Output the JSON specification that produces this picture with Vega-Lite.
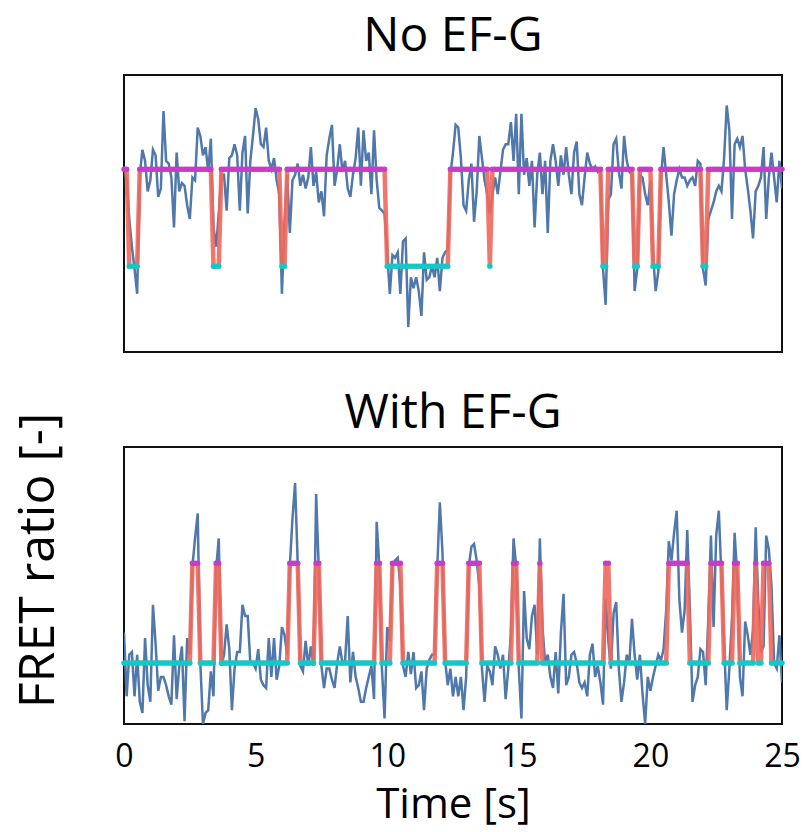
{
"$schema":"https://vega.github.io/schema/vega-lite/v6.json",
"padding":{"left":12,"top":12,"right":4,"bottom":2},
"spacing":95,
"bounds":"flush",
"config":{"font":"Open Sans","view":{"stroke":"#111","strokeWidth":2},"title":{"fontSize":48,"fontWeight":"normal","color":"#000","offset":14,"frame":"group"},"axis":{"grid":false,"labelColor":"#000","titleColor":"#000","titleFontWeight":"normal"}},
"datasets":{
"a":[
{"t":0,"f":0.67,"s":"H","i":0.66},{"t":0.1,"f":0.62,"s":"H","i":0.66},{"t":0.2,"f":0.48,"s":"L","i":0.31},{"t":0.3,"f":0.38,"s":"L","i":0.31},{"t":0.4,"f":0.30,"s":"L","i":0.31},{"t":0.5,"f":0.21,"s":"L","i":0.31},{"t":0.6,"f":0.64,"s":"H","i":0.66},{"t":0.7,"f":0.73,"s":"H","i":0.66},{"t":0.8,"f":0.69,"s":"H","i":0.66},{"t":0.9,"f":0.58,"s":"H","i":0.66},
{"t":1.0,"f":0.62,"s":"H","i":0.66},{"t":1.1,"f":0.73,"s":"H","i":0.66},{"t":1.2,"f":0.71,"s":"H","i":0.66},{"t":1.3,"f":0.56,"s":"H","i":0.66},{"t":1.4,"f":0.59,"s":"H","i":0.66},{"t":1.5,"f":0.87,"s":"H","i":0.66},{"t":1.6,"f":0.69,"s":"H","i":0.66},{"t":1.7,"f":0.68,"s":"H","i":0.66},{"t":1.8,"f":0.63,"s":"H","i":0.66},{"t":1.9,"f":0.45,"s":"H","i":0.66},
{"t":2.0,"f":0.72,"s":"H","i":0.66},{"t":2.1,"f":0.58,"s":"H","i":0.66},{"t":2.2,"f":0.61,"s":"H","i":0.66},{"t":2.3,"f":0.60,"s":"H","i":0.66},{"t":2.4,"f":0.53,"s":"H","i":0.66},{"t":2.5,"f":0.48,"s":"H","i":0.66},{"t":2.6,"f":0.63,"s":"H","i":0.66},{"t":2.7,"f":0.62,"s":"H","i":0.66},{"t":2.8,"f":0.81,"s":"H","i":0.66},{"t":2.9,"f":0.78,"s":"H","i":0.66},
{"t":3.0,"f":0.71,"s":"H","i":0.66},{"t":3.1,"f":0.74,"s":"H","i":0.66},{"t":3.2,"f":0.65,"s":"H","i":0.66},{"t":3.3,"f":0.77,"s":"H","i":0.66},{"t":3.4,"f":0.45,"s":"L","i":0.31},{"t":3.5,"f":0.38,"s":"L","i":0.31},{"t":3.6,"f":0.50,"s":"L","i":0.31},{"t":3.7,"f":0.64,"s":"H","i":0.66},{"t":3.8,"f":0.64,"s":"H","i":0.66},{"t":3.9,"f":0.51,"s":"H","i":0.66},
{"t":4.0,"f":0.70,"s":"H","i":0.66},{"t":4.1,"f":0.71,"s":"H","i":0.66},{"t":4.2,"f":0.75,"s":"H","i":0.66},{"t":4.3,"f":0.71,"s":"H","i":0.66},{"t":4.4,"f":0.51,"s":"H","i":0.66},{"t":4.5,"f":0.72,"s":"H","i":0.66},{"t":4.6,"f":0.78,"s":"H","i":0.66},{"t":4.7,"f":0.50,"s":"H","i":0.66},{"t":4.8,"f":0.69,"s":"H","i":0.66},{"t":4.9,"f":0.78,"s":"H","i":0.66},
{"t":5.0,"f":0.88,"s":"H","i":0.66},{"t":5.1,"f":0.84,"s":"H","i":0.66},{"t":5.2,"f":0.75,"s":"H","i":0.66},{"t":5.3,"f":0.74,"s":"H","i":0.66},{"t":5.4,"f":0.81,"s":"H","i":0.66},{"t":5.5,"f":0.69,"s":"H","i":0.66},{"t":5.6,"f":0.66,"s":"H","i":0.66},{"t":5.7,"f":0.70,"s":"H","i":0.66},{"t":5.8,"f":0.62,"s":"H","i":0.66},{"t":5.9,"f":0.57,"s":"H","i":0.66},
{"t":6.0,"f":0.21,"s":"L","i":0.31},{"t":6.1,"f":0.47,"s":"L","i":0.31},{"t":6.2,"f":0.64,"s":"H","i":0.66},{"t":6.3,"f":0.43,"s":"H","i":0.66},{"t":6.4,"f":0.62,"s":"H","i":0.66},{"t":6.5,"f":0.64,"s":"H","i":0.66},{"t":6.6,"f":0.68,"s":"H","i":0.66},{"t":6.7,"f":0.60,"s":"H","i":0.66},{"t":6.8,"f":0.64,"s":"H","i":0.66},{"t":6.9,"f":0.59,"s":"H","i":0.66},
{"t":7.0,"f":0.63,"s":"H","i":0.66},{"t":7.1,"f":0.74,"s":"H","i":0.66},{"t":7.2,"f":0.60,"s":"H","i":0.66},{"t":7.3,"f":0.65,"s":"H","i":0.66},{"t":7.4,"f":0.54,"s":"H","i":0.66},{"t":7.5,"f":0.58,"s":"H","i":0.66},{"t":7.6,"f":0.49,"s":"H","i":0.66},{"t":7.7,"f":0.71,"s":"H","i":0.66},{"t":7.8,"f":0.77,"s":"H","i":0.66},{"t":7.9,"f":0.82,"s":"H","i":0.66},
{"t":8.0,"f":0.60,"s":"H","i":0.66},{"t":8.1,"f":0.66,"s":"H","i":0.66},{"t":8.2,"f":0.75,"s":"H","i":0.66},{"t":8.3,"f":0.65,"s":"H","i":0.66},{"t":8.4,"f":0.69,"s":"H","i":0.66},{"t":8.5,"f":0.59,"s":"H","i":0.66},{"t":8.6,"f":0.56,"s":"H","i":0.66},{"t":8.7,"f":0.64,"s":"H","i":0.66},{"t":8.8,"f":0.70,"s":"H","i":0.66},{"t":8.9,"f":0.81,"s":"H","i":0.66},
{"t":9.0,"f":0.60,"s":"H","i":0.66},{"t":9.1,"f":0.80,"s":"H","i":0.66},{"t":9.2,"f":0.69,"s":"H","i":0.66},{"t":9.3,"f":0.72,"s":"H","i":0.66},{"t":9.4,"f":0.57,"s":"H","i":0.66},{"t":9.5,"f":0.80,"s":"H","i":0.66},{"t":9.6,"f":0.62,"s":"H","i":0.66},{"t":9.7,"f":0.52,"s":"H","i":0.66},{"t":9.8,"f":0.51,"s":"H","i":0.66},{"t":9.9,"f":0.50,"s":"H","i":0.66},
{"t":10.0,"f":0.36,"s":"L","i":0.31},{"t":10.1,"f":0.21,"s":"L","i":0.31},{"t":10.2,"f":0.35,"s":"L","i":0.31},{"t":10.3,"f":0.34,"s":"L","i":0.31},{"t":10.4,"f":0.36,"s":"L","i":0.31},{"t":10.5,"f":0.21,"s":"L","i":0.31},{"t":10.6,"f":0.40,"s":"L","i":0.31},{"t":10.7,"f":0.41,"s":"L","i":0.31},{"t":10.8,"f":0.09,"s":"L","i":0.31},{"t":10.9,"f":0.27,"s":"L","i":0.31},
{"t":11.0,"f":0.23,"s":"L","i":0.31},{"t":11.1,"f":0.27,"s":"L","i":0.31},{"t":11.2,"f":0.22,"s":"L","i":0.31},{"t":11.3,"f":0.13,"s":"L","i":0.31},{"t":11.4,"f":0.36,"s":"L","i":0.31},{"t":11.5,"f":0.26,"s":"L","i":0.31},{"t":11.6,"f":0.27,"s":"L","i":0.31},{"t":11.7,"f":0.31,"s":"L","i":0.31},{"t":11.8,"f":0.27,"s":"L","i":0.31},{"t":11.9,"f":0.34,"s":"L","i":0.31},
{"t":12.0,"f":0.22,"s":"L","i":0.31},{"t":12.1,"f":0.34,"s":"L","i":0.31},{"t":12.2,"f":0.36,"s":"L","i":0.31},{"t":12.3,"f":0.37,"s":"L","i":0.31},{"t":12.4,"f":0.64,"s":"H","i":0.66},{"t":12.5,"f":0.72,"s":"H","i":0.66},{"t":12.6,"f":0.82,"s":"H","i":0.66},{"t":12.7,"f":0.81,"s":"H","i":0.66},{"t":12.8,"f":0.70,"s":"H","i":0.66},{"t":12.9,"f":0.53,"s":"H","i":0.66},
{"t":13.0,"f":0.51,"s":"H","i":0.66},{"t":13.1,"f":0.62,"s":"H","i":0.66},{"t":13.2,"f":0.68,"s":"H","i":0.66},{"t":13.3,"f":0.47,"s":"H","i":0.66},{"t":13.4,"f":0.58,"s":"H","i":0.66},{"t":13.5,"f":0.78,"s":"H","i":0.66},{"t":13.6,"f":0.70,"s":"H","i":0.66},{"t":13.7,"f":0.62,"s":"H","i":0.66},{"t":13.8,"f":0.57,"s":"H","i":0.66},{"t":13.9,"f":0.50,"s":"L","i":0.31},
{"t":14.0,"f":0.57,"s":"H","i":0.66},{"t":14.1,"f":0.63,"s":"H","i":0.66},{"t":14.2,"f":0.57,"s":"H","i":0.66},{"t":14.3,"f":0.65,"s":"H","i":0.66},{"t":14.4,"f":0.73,"s":"H","i":0.66},{"t":14.5,"f":0.75,"s":"H","i":0.66},{"t":14.6,"f":0.75,"s":"H","i":0.66},{"t":14.7,"f":0.83,"s":"H","i":0.66},{"t":14.8,"f":0.69,"s":"H","i":0.66},{"t":14.9,"f":0.86,"s":"H","i":0.66},
{"t":15.0,"f":0.57,"s":"H","i":0.66},{"t":15.1,"f":0.86,"s":"H","i":0.66},{"t":15.2,"f":0.64,"s":"H","i":0.66},{"t":15.3,"f":0.70,"s":"H","i":0.66},{"t":15.4,"f":0.60,"s":"H","i":0.66},{"t":15.5,"f":0.69,"s":"H","i":0.66},{"t":15.6,"f":0.45,"s":"H","i":0.66},{"t":15.7,"f":0.64,"s":"H","i":0.66},{"t":15.8,"f":0.72,"s":"H","i":0.66},{"t":15.9,"f":0.57,"s":"H","i":0.66},
{"t":16.0,"f":0.69,"s":"H","i":0.66},{"t":16.1,"f":0.43,"s":"H","i":0.66},{"t":16.2,"f":0.69,"s":"H","i":0.66},{"t":16.3,"f":0.75,"s":"H","i":0.66},{"t":16.4,"f":0.69,"s":"H","i":0.66},{"t":16.5,"f":0.60,"s":"H","i":0.66},{"t":16.6,"f":0.71,"s":"H","i":0.66},{"t":16.7,"f":0.64,"s":"H","i":0.66},{"t":16.8,"f":0.74,"s":"H","i":0.66},{"t":16.9,"f":0.64,"s":"H","i":0.66},
{"t":17.0,"f":0.57,"s":"H","i":0.66},{"t":17.1,"f":0.72,"s":"H","i":0.66},{"t":17.2,"f":0.76,"s":"H","i":0.66},{"t":17.3,"f":0.57,"s":"H","i":0.66},{"t":17.4,"f":0.53,"s":"H","i":0.66},{"t":17.5,"f":0.63,"s":"H","i":0.66},{"t":17.6,"f":0.72,"s":"H","i":0.66},{"t":17.7,"f":0.68,"s":"H","i":0.66},{"t":17.8,"f":0.66,"s":"H","i":0.66},{"t":17.9,"f":0.67,"s":"H","i":0.66},
{"t":18.0,"f":0.65,"s":"H","i":0.66},{"t":18.1,"f":0.66,"s":"H","i":0.66},{"t":18.2,"f":0.30,"s":"L","i":0.31},{"t":18.3,"f":0.17,"s":"L","i":0.31},{"t":18.4,"f":0.55,"s":"H","i":0.66},{"t":18.5,"f":0.57,"s":"H","i":0.66},{"t":18.6,"f":0.75,"s":"H","i":0.66},{"t":18.7,"f":0.77,"s":"H","i":0.66},{"t":18.8,"f":0.65,"s":"H","i":0.66},{"t":18.9,"f":0.59,"s":"H","i":0.66},
{"t":19.0,"f":0.78,"s":"H","i":0.66},{"t":19.1,"f":0.69,"s":"H","i":0.66},{"t":19.2,"f":0.65,"s":"H","i":0.66},{"t":19.3,"f":0.64,"s":"H","i":0.66},{"t":19.4,"f":0.22,"s":"L","i":0.31},{"t":19.5,"f":0.30,"s":"L","i":0.31},{"t":19.6,"f":0.64,"s":"H","i":0.66},{"t":19.7,"f":0.63,"s":"H","i":0.66},{"t":19.8,"f":0.57,"s":"H","i":0.66},{"t":19.9,"f":0.53,"s":"H","i":0.66},
{"t":20.0,"f":0.62,"s":"H","i":0.66},{"t":20.1,"f":0.35,"s":"L","i":0.31},{"t":20.2,"f":0.22,"s":"L","i":0.31},{"t":20.3,"f":0.29,"s":"L","i":0.31},{"t":20.4,"f":0.63,"s":"H","i":0.66},{"t":20.5,"f":0.74,"s":"H","i":0.66},{"t":20.6,"f":0.64,"s":"H","i":0.66},{"t":20.7,"f":0.54,"s":"H","i":0.66},{"t":20.8,"f":0.42,"s":"H","i":0.66},{"t":20.9,"f":0.57,"s":"H","i":0.66},
{"t":21.0,"f":0.62,"s":"H","i":0.66},{"t":21.1,"f":0.66,"s":"H","i":0.66},{"t":21.2,"f":0.63,"s":"H","i":0.66},{"t":21.3,"f":0.63,"s":"H","i":0.66},{"t":21.4,"f":0.60,"s":"H","i":0.66},{"t":21.5,"f":0.62,"s":"H","i":0.66},{"t":21.6,"f":0.63,"s":"H","i":0.66},{"t":21.7,"f":0.60,"s":"H","i":0.66},{"t":21.8,"f":0.69,"s":"H","i":0.66},{"t":21.9,"f":0.68,"s":"H","i":0.66},
{"t":22.0,"f":0.30,"s":"L","i":0.31},{"t":22.1,"f":0.24,"s":"L","i":0.31},{"t":22.2,"f":0.48,"s":"H","i":0.66},{"t":22.3,"f":0.51,"s":"H","i":0.66},{"t":22.4,"f":0.54,"s":"H","i":0.66},{"t":22.5,"f":0.58,"s":"H","i":0.66},{"t":22.6,"f":0.60,"s":"H","i":0.66},{"t":22.7,"f":0.58,"s":"H","i":0.66},{"t":22.8,"f":0.70,"s":"H","i":0.66},{"t":22.9,"f":0.89,"s":"H","i":0.66},
{"t":23.0,"f":0.80,"s":"H","i":0.66},{"t":23.1,"f":0.48,"s":"H","i":0.66},{"t":23.2,"f":0.75,"s":"H","i":0.66},{"t":23.3,"f":0.77,"s":"H","i":0.66},{"t":23.4,"f":0.74,"s":"H","i":0.66},{"t":23.5,"f":0.78,"s":"H","i":0.66},{"t":23.6,"f":0.66,"s":"H","i":0.66},{"t":23.7,"f":0.59,"s":"H","i":0.66},{"t":23.8,"f":0.51,"s":"H","i":0.66},{"t":23.9,"f":0.41,"s":"H","i":0.66},
{"t":24.0,"f":0.58,"s":"H","i":0.66},{"t":24.1,"f":0.60,"s":"H","i":0.66},{"t":24.2,"f":0.63,"s":"H","i":0.66},{"t":24.3,"f":0.74,"s":"H","i":0.66},{"t":24.4,"f":0.48,"s":"H","i":0.66},{"t":24.5,"f":0.63,"s":"H","i":0.66},{"t":24.6,"f":0.72,"s":"H","i":0.66},{"t":24.7,"f":0.63,"s":"H","i":0.66},{"t":24.8,"f":0.54,"s":"H","i":0.66},{"t":24.9,"f":0.69,"s":"H","i":0.66},
{"t":25.0,"f":0.59,"s":"H","i":0.66}
],
"b":[
{"t":0,"f":0.33,"s":"L","i":0.22},{"t":0.1,"f":0.10,"s":"L","i":0.22},{"t":0.2,"f":0.25,"s":"L","i":0.22},{"t":0.3,"f":0.26,"s":"L","i":0.22},{"t":0.4,"f":0.10,"s":"L","i":0.22},{"t":0.5,"f":0.25,"s":"L","i":0.22},{"t":0.6,"f":0.08,"s":"L","i":0.22},{"t":0.7,"f":0.04,"s":"L","i":0.22},{"t":0.8,"f":0.31,"s":"L","i":0.22},{"t":0.9,"f":0.14,"s":"L","i":0.22},
{"t":1.0,"f":0.08,"s":"L","i":0.22},{"t":1.1,"f":0.43,"s":"L","i":0.22},{"t":1.2,"f":0.29,"s":"L","i":0.22},{"t":1.3,"f":0.12,"s":"L","i":0.22},{"t":1.4,"f":0.17,"s":"L","i":0.22},{"t":1.5,"f":0.17,"s":"L","i":0.22},{"t":1.6,"f":0.14,"s":"L","i":0.22},{"t":1.7,"f":0.10,"s":"L","i":0.22},{"t":1.8,"f":0.07,"s":"L","i":0.22},{"t":1.9,"f":0.32,"s":"L","i":0.22},
{"t":2.0,"f":0.09,"s":"L","i":0.22},{"t":2.1,"f":0.21,"s":"L","i":0.22},{"t":2.2,"f":0.28,"s":"L","i":0.22},{"t":2.3,"f":0.01,"s":"L","i":0.22},{"t":2.4,"f":0.31,"s":"L","i":0.22},{"t":2.5,"f":0.25,"s":"L","i":0.22},{"t":2.6,"f":0.57,"s":"H","i":0.58},{"t":2.7,"f":0.67,"s":"H","i":0.58},{"t":2.8,"f":0.76,"s":"H","i":0.58},{"t":2.9,"f":0.22,"s":"L","i":0.22},
{"t":3.0,"f":0.00,"s":"L","i":0.22},{"t":3.1,"f":0.04,"s":"L","i":0.22},{"t":3.2,"f":0.05,"s":"L","i":0.22},{"t":3.3,"f":0.19,"s":"L","i":0.22},{"t":3.4,"f":0.10,"s":"L","i":0.22},{"t":3.5,"f":0.56,"s":"H","i":0.58},{"t":3.6,"f":0.67,"s":"H","i":0.58},{"t":3.7,"f":0.21,"s":"L","i":0.22},{"t":3.8,"f":0.25,"s":"L","i":0.22},{"t":3.9,"f":0.36,"s":"L","i":0.22},
{"t":4.0,"f":0.27,"s":"L","i":0.22},{"t":4.1,"f":0.05,"s":"L","i":0.22},{"t":4.2,"f":0.20,"s":"L","i":0.22},{"t":4.3,"f":0.26,"s":"L","i":0.22},{"t":4.4,"f":0.26,"s":"L","i":0.22},{"t":4.5,"f":0.43,"s":"L","i":0.22},{"t":4.6,"f":0.39,"s":"L","i":0.22},{"t":4.7,"f":0.39,"s":"L","i":0.22},{"t":4.8,"f":0.22,"s":"L","i":0.22},{"t":4.9,"f":0.22,"s":"L","i":0.22},
{"t":5.0,"f":0.20,"s":"L","i":0.22},{"t":5.1,"f":0.27,"s":"L","i":0.22},{"t":5.2,"f":0.16,"s":"L","i":0.22},{"t":5.3,"f":0.14,"s":"L","i":0.22},{"t":5.4,"f":0.13,"s":"L","i":0.22},{"t":5.5,"f":0.31,"s":"L","i":0.22},{"t":5.6,"f":0.17,"s":"L","i":0.22},{"t":5.7,"f":0.31,"s":"L","i":0.22},{"t":5.8,"f":0.16,"s":"L","i":0.22},{"t":5.9,"f":0.21,"s":"L","i":0.22},
{"t":6.0,"f":0.35,"s":"L","i":0.22},{"t":6.1,"f":0.32,"s":"L","i":0.22},{"t":6.2,"f":0.25,"s":"L","i":0.22},{"t":6.3,"f":0.57,"s":"H","i":0.58},{"t":6.4,"f":0.74,"s":"H","i":0.58},{"t":6.5,"f":0.87,"s":"H","i":0.58},{"t":6.6,"f":0.58,"s":"H","i":0.58},{"t":6.7,"f":0.21,"s":"L","i":0.22},{"t":6.8,"f":0.19,"s":"L","i":0.22},{"t":6.9,"f":0.30,"s":"L","i":0.22},
{"t":7.0,"f":0.21,"s":"L","i":0.22},{"t":7.1,"f":0.28,"s":"L","i":0.22},{"t":7.2,"f":0.21,"s":"L","i":0.22},{"t":7.3,"f":0.83,"s":"H","i":0.58},{"t":7.4,"f":0.56,"s":"H","i":0.58},{"t":7.5,"f":0.21,"s":"L","i":0.22},{"t":7.6,"f":0.13,"s":"L","i":0.22},{"t":7.7,"f":0.20,"s":"L","i":0.22},{"t":7.8,"f":0.20,"s":"L","i":0.22},{"t":7.9,"f":0.16,"s":"L","i":0.22},
{"t":8.0,"f":0.13,"s":"L","i":0.22},{"t":8.1,"f":0.22,"s":"L","i":0.22},{"t":8.2,"f":0.28,"s":"L","i":0.22},{"t":8.3,"f":0.22,"s":"L","i":0.22},{"t":8.4,"f":0.23,"s":"L","i":0.22},{"t":8.5,"f":0.39,"s":"L","i":0.22},{"t":8.6,"f":0.15,"s":"L","i":0.22},{"t":8.7,"f":0.26,"s":"L","i":0.22},{"t":8.8,"f":0.17,"s":"L","i":0.22},{"t":8.9,"f":0.13,"s":"L","i":0.22},
{"t":9.0,"f":0.08,"s":"L","i":0.22},{"t":9.1,"f":0.08,"s":"L","i":0.22},{"t":9.2,"f":0.13,"s":"L","i":0.22},{"t":9.3,"f":0.17,"s":"L","i":0.22},{"t":9.4,"f":0.21,"s":"L","i":0.22},{"t":9.5,"f":0.09,"s":"L","i":0.22},{"t":9.6,"f":0.73,"s":"H","i":0.58},{"t":9.7,"f":0.57,"s":"H","i":0.58},{"t":9.8,"f":0.20,"s":"L","i":0.22},{"t":9.9,"f":0.02,"s":"L","i":0.22},
{"t":10.0,"f":0.35,"s":"L","i":0.22},{"t":10.1,"f":0.30,"s":"L","i":0.22},{"t":10.2,"f":0.57,"s":"H","i":0.58},{"t":10.3,"f":0.59,"s":"H","i":0.58},{"t":10.4,"f":0.60,"s":"H","i":0.58},{"t":10.5,"f":0.50,"s":"H","i":0.58},{"t":10.6,"f":0.21,"s":"L","i":0.22},{"t":10.7,"f":0.17,"s":"L","i":0.22},{"t":10.8,"f":0.26,"s":"L","i":0.22},{"t":10.9,"f":0.18,"s":"L","i":0.22},
{"t":11.0,"f":0.26,"s":"L","i":0.22},{"t":11.1,"f":0.13,"s":"L","i":0.22},{"t":11.2,"f":0.14,"s":"L","i":0.22},{"t":11.3,"f":0.19,"s":"L","i":0.22},{"t":11.4,"f":0.05,"s":"L","i":0.22},{"t":11.5,"f":0.20,"s":"L","i":0.22},{"t":11.6,"f":0.23,"s":"L","i":0.22},{"t":11.7,"f":0.25,"s":"L","i":0.22},{"t":11.8,"f":0.25,"s":"L","i":0.22},{"t":11.9,"f":0.56,"s":"H","i":0.58},
{"t":12.0,"f":0.80,"s":"H","i":0.58},{"t":12.1,"f":0.62,"s":"H","i":0.58},{"t":12.2,"f":0.23,"s":"L","i":0.22},{"t":12.3,"f":0.14,"s":"L","i":0.22},{"t":12.4,"f":0.20,"s":"L","i":0.22},{"t":12.5,"f":0.10,"s":"L","i":0.22},{"t":12.6,"f":0.17,"s":"L","i":0.22},{"t":12.7,"f":0.10,"s":"L","i":0.22},{"t":12.8,"f":0.17,"s":"L","i":0.22},{"t":12.9,"f":0.05,"s":"L","i":0.22},
{"t":13.0,"f":0.17,"s":"L","i":0.22},{"t":13.1,"f":0.57,"s":"H","i":0.58},{"t":13.2,"f":0.64,"s":"H","i":0.58},{"t":13.3,"f":0.65,"s":"H","i":0.58},{"t":13.4,"f":0.59,"s":"H","i":0.58},{"t":13.5,"f":0.50,"s":"H","i":0.58},{"t":13.6,"f":0.20,"s":"L","i":0.22},{"t":13.7,"f":0.08,"s":"L","i":0.22},{"t":13.8,"f":0.21,"s":"L","i":0.22},{"t":13.9,"f":0.19,"s":"L","i":0.22},
{"t":14.0,"f":0.14,"s":"L","i":0.22},{"t":14.1,"f":0.28,"s":"L","i":0.22},{"t":14.2,"f":0.25,"s":"L","i":0.22},{"t":14.3,"f":0.20,"s":"L","i":0.22},{"t":14.4,"f":0.25,"s":"L","i":0.22},{"t":14.5,"f":0.09,"s":"L","i":0.22},{"t":14.6,"f":0.20,"s":"L","i":0.22},{"t":14.7,"f":0.32,"s":"L","i":0.22},{"t":14.8,"f":0.67,"s":"H","i":0.58},{"t":14.9,"f":0.57,"s":"H","i":0.58},
{"t":15.0,"f":0.20,"s":"L","i":0.22},{"t":15.1,"f":0.02,"s":"L","i":0.22},{"t":15.2,"f":0.48,"s":"L","i":0.22},{"t":15.3,"f":0.31,"s":"L","i":0.22},{"t":15.4,"f":0.27,"s":"L","i":0.22},{"t":15.5,"f":0.39,"s":"L","i":0.22},{"t":15.6,"f":0.43,"s":"L","i":0.22},{"t":15.7,"f":0.25,"s":"L","i":0.22},{"t":15.8,"f":0.67,"s":"H","i":0.58},{"t":15.9,"f":0.35,"s":"L","i":0.22},
{"t":16.0,"f":0.22,"s":"L","i":0.22},{"t":16.1,"f":0.25,"s":"L","i":0.22},{"t":16.2,"f":0.17,"s":"L","i":0.22},{"t":16.3,"f":0.13,"s":"L","i":0.22},{"t":16.4,"f":0.26,"s":"L","i":0.22},{"t":16.5,"f":0.11,"s":"L","i":0.22},{"t":16.6,"f":0.33,"s":"L","i":0.22},{"t":16.7,"f":0.47,"s":"L","i":0.22},{"t":16.8,"f":0.14,"s":"L","i":0.22},{"t":16.9,"f":0.17,"s":"L","i":0.22},
{"t":17.0,"f":0.25,"s":"L","i":0.22},{"t":17.1,"f":0.26,"s":"L","i":0.22},{"t":17.2,"f":0.22,"s":"L","i":0.22},{"t":17.3,"f":0.15,"s":"L","i":0.22},{"t":17.4,"f":0.13,"s":"L","i":0.22},{"t":17.5,"f":0.15,"s":"L","i":0.22},{"t":17.6,"f":0.10,"s":"L","i":0.22},{"t":17.7,"f":0.25,"s":"L","i":0.22},{"t":17.8,"f":0.29,"s":"L","i":0.22},{"t":17.9,"f":0.17,"s":"L","i":0.22},
{"t":18.0,"f":0.21,"s":"L","i":0.22},{"t":18.1,"f":0.15,"s":"L","i":0.22},{"t":18.2,"f":0.07,"s":"L","i":0.22},{"t":18.3,"f":0.45,"s":"H","i":0.58},{"t":18.4,"f":0.30,"s":"H","i":0.58},{"t":18.5,"f":0.20,"s":"L","i":0.22},{"t":18.6,"f":0.40,"s":"L","i":0.22},{"t":18.7,"f":0.44,"s":"L","i":0.22},{"t":18.8,"f":0.20,"s":"L","i":0.22},{"t":18.9,"f":0.08,"s":"L","i":0.22},
{"t":19.0,"f":0.15,"s":"L","i":0.22},{"t":19.1,"f":0.25,"s":"L","i":0.22},{"t":19.2,"f":0.22,"s":"L","i":0.22},{"t":19.3,"f":0.38,"s":"L","i":0.22},{"t":19.4,"f":0.25,"s":"L","i":0.22},{"t":19.5,"f":0.16,"s":"L","i":0.22},{"t":19.6,"f":0.25,"s":"L","i":0.22},{"t":19.7,"f":0.11,"s":"L","i":0.22},{"t":19.8,"f":0.00,"s":"L","i":0.22},{"t":19.9,"f":0.17,"s":"L","i":0.22},
{"t":20.0,"f":0.12,"s":"L","i":0.22},{"t":20.1,"f":0.17,"s":"L","i":0.22},{"t":20.2,"f":0.21,"s":"L","i":0.22},{"t":20.3,"f":0.25,"s":"L","i":0.22},{"t":20.4,"f":0.23,"s":"L","i":0.22},{"t":20.5,"f":0.27,"s":"L","i":0.22},{"t":20.6,"f":0.41,"s":"L","i":0.22},{"t":20.7,"f":0.66,"s":"H","i":0.58},{"t":20.8,"f":0.59,"s":"H","i":0.58},{"t":20.9,"f":0.69,"s":"H","i":0.58},
{"t":21.0,"f":0.77,"s":"H","i":0.58},{"t":21.1,"f":0.45,"s":"H","i":0.58},{"t":21.2,"f":0.33,"s":"H","i":0.58},{"t":21.3,"f":0.41,"s":"H","i":0.58},{"t":21.4,"f":0.70,"s":"H","i":0.58},{"t":21.5,"f":0.41,"s":"L","i":0.22},{"t":21.6,"f":0.08,"s":"L","i":0.22},{"t":21.7,"f":0.14,"s":"L","i":0.22},{"t":21.8,"f":0.17,"s":"L","i":0.22},{"t":21.9,"f":0.27,"s":"L","i":0.22},
{"t":22.0,"f":0.26,"s":"L","i":0.22},{"t":22.1,"f":0.14,"s":"L","i":0.22},{"t":22.2,"f":0.38,"s":"L","i":0.22},{"t":22.3,"f":0.68,"s":"H","i":0.58},{"t":22.4,"f":0.35,"s":"H","i":0.58},{"t":22.5,"f":0.68,"s":"H","i":0.58},{"t":22.6,"f":0.77,"s":"H","i":0.58},{"t":22.7,"f":0.53,"s":"H","i":0.58},{"t":22.8,"f":0.29,"s":"L","i":0.22},{"t":22.9,"f":0.05,"s":"L","i":0.22},
{"t":23.0,"f":0.20,"s":"L","i":0.22},{"t":23.1,"f":0.38,"s":"L","i":0.22},{"t":23.2,"f":0.69,"s":"H","i":0.58},{"t":23.3,"f":0.53,"s":"H","i":0.58},{"t":23.4,"f":0.17,"s":"L","i":0.22},{"t":23.5,"f":0.10,"s":"L","i":0.22},{"t":23.6,"f":0.37,"s":"L","i":0.22},{"t":23.7,"f":0.32,"s":"L","i":0.22},{"t":23.8,"f":0.25,"s":"L","i":0.22},{"t":23.9,"f":0.34,"s":"L","i":0.22},
{"t":24.0,"f":0.71,"s":"H","i":0.58},{"t":24.1,"f":0.44,"s":"L","i":0.22},{"t":24.2,"f":0.26,"s":"L","i":0.22},{"t":24.3,"f":0.28,"s":"H","i":0.58},{"t":24.4,"f":0.68,"s":"H","i":0.58},{"t":24.5,"f":0.63,"s":"H","i":0.58},{"t":24.6,"f":0.50,"s":"L","i":0.22},{"t":24.7,"f":0.22,"s":"L","i":0.22},{"t":24.8,"f":0.20,"s":"L","i":0.22},{"t":24.9,"f":0.32,"s":"L","i":0.22},
{"t":25.0,"f":0.15,"s":"L","i":0.22}
]},
"vconcat":[
{"title":{"text":"No EF-G","offset":14},"width":658,"height":277,"data":{"name":"a"},
 "encoding":{"x":{"field":"t","type":"quantitative","scale":{"domain":[0,25],"nice":false},"axis":null}},
 "layer":[
  {"mark":{"type":"line","color":"#5078aa","strokeWidth":2.5,"clip":true},"encoding":{"y":{"field":"f","type":"quantitative","scale":{"domain":[0,1],"nice":false},"axis":null}}},
  {"mark":{"type":"line","color":"#f0685c","strokeWidth":4.5,"opacity":0.9},"encoding":{"y":{"field":"i","type":"quantitative","axis":null}}},
  {"mark":{"type":"point","filled":true,"size":30,"opacity":1},"encoding":{"y":{"field":"i","type":"quantitative","axis":null},"color":{"field":"s","type":"nominal","scale":{"domain":["H","L"],"range":["#c83cc8","#14c8c8"]},"legend":null}}}
 ]},
{"title":{"text":"With EF-G","offset":-26},"width":658,"height":277,"data":{"name":"b"},
 "encoding":{"x":{"field":"t","type":"quantitative","scale":{"domain":[0,25],"nice":false},"axis":{"title":"Time [s]","values":[0,5,10,15,20,25],"labelFontSize":32,"titleFontSize":42,"ticks":false,"domain":false,"labelPadding":17,"titlePadding":12,"labelFlush":false}}},
 "layer":[
  {"mark":{"type":"line","color":"#5078aa","strokeWidth":2.5,"clip":true},"encoding":{"y":{"field":"f","type":"quantitative","scale":{"domain":[0,1],"nice":false},"axis":{"title":"FRET ratio [-]","titleFontSize":50,"labels":false,"ticks":false,"domain":false,"titlePadding":61,"titleY":113}}}},
  {"mark":{"type":"line","color":"#f0685c","strokeWidth":4.5,"opacity":0.9},"encoding":{"y":{"field":"i","type":"quantitative","axis":{"title":"FRET ratio [-]","titleFontSize":50,"labels":false,"ticks":false,"domain":false,"titlePadding":61,"titleY":113}}}},
  {"mark":{"type":"point","filled":true,"size":30,"opacity":1},"encoding":{"y":{"field":"i","type":"quantitative","axis":{"title":"FRET ratio [-]","titleFontSize":50,"labels":false,"ticks":false,"domain":false,"titlePadding":61,"titleY":113}},"color":{"field":"s","type":"nominal","scale":{"domain":["H","L"],"range":["#c83cc8","#14c8c8"]},"legend":null}}}
 ]}
]
}
